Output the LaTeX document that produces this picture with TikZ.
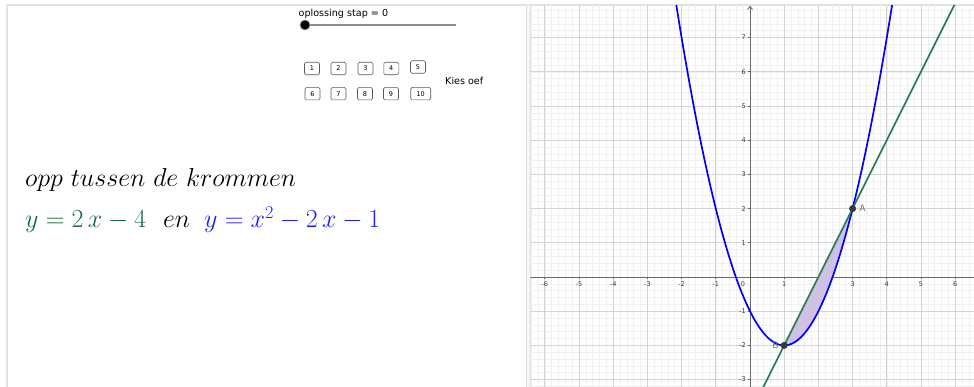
\RequirePackage{fix-cm}
\documentclass[tikz,border=0pt]{standalone}
\usepackage{fontspec}
\setsansfont{DejaVu Sans}
\usetikzlibrary{arrows.meta}
\definecolor{ggreen}{RGB}{20,110,65}
\definecolor{gline}{RGB}{35,125,80}
\definecolor{gblue}{RGB}{0,0,255}
\definecolor{gtextblue}{RGB}{30,30,255}
\definecolor{gfill}{RGB}{208,192,230}
\definecolor{framec}{RGB}{225,225,225}
\definecolor{majgrid}{RGB}{212,212,212}
\definecolor{mingrid}{RGB}{240,240,240}
\definecolor{axisc}{RGB}{105,105,105}
\definecolor{ptc}{RGB}{55,55,55}
\definecolor{labc}{RGB}{60,60,60}
\begin{document}
\begin{tikzpicture}[x=1pt,y=-1pt,
  btn/.style={draw=black!65, fill=white, rounded corners=1.5pt, minimum height=12.5pt,
    minimum width=15pt, inner sep=0pt, font=\sffamily\fontsize{6.5}{7}\selectfont, line width=0.6pt},
  ticklab/.style={font=\sffamily\fontsize{6.5}{7}\selectfont, text=labc, inner sep=0pt},
  ptlab/.style={font=\sffamily\fontsize{9}{10}\selectfont, text=black!55, inner sep=0pt},
  pt/.style={circle, fill=ptc, draw=ptc, inner sep=0pt, minimum size=6.5pt},
  bigtext/.style={font=\fontsize{26}{30}\selectfont, inner sep=0pt, anchor=base west}]
\useasboundingbox (0,0) rectangle (974,387);
\fill[white] (0,0) rectangle (974,387);
% frame
\draw[framec, line width=1.5pt] (7,5) -- (974,5);
\draw[framec, line width=1.5pt] (7,5) -- (7,387);
\fill[black!4] (526,5) rectangle (530.5,387);
\draw[framec, line width=1pt] (526.5,5) -- (526.5,387);
\draw[framec, line width=1pt] (530,5) -- (530,387);
% slider
\node[anchor=west, inner sep=0pt, font=\sffamily\fontsize{9.6}{11}\selectfont] (sl) at (298.5,13.5) {oplossing stap = 0};
\coordinate (s0) at (305,25);
\coordinate (s1) at (456,25);
\draw[black!45, line width=1.6pt] (s0) -- (s1);
\node[circle, fill=black, draw=black!40, line width=0.8pt, inner sep=0pt, minimum size=10pt] (knob) at (s0) {};
% buttons
\node[btn] (b1) at (312,68.5) {1};
\node[btn] (b2) at (338.5,68.5) {2};
\node[btn] (b3) at (365.5,68.5) {3};
\node[btn] (b4) at (391.3,68.5) {4};
\node[btn] (b5) at (418,67) {5};
\node[btn] (b6) at (312.5,93.7) {6};
\node[btn] (b7) at (338.5,93.7) {7};
\node[btn] (b8) at (365,93.7) {8};
\node[btn] (b9) at (391,93.7) {9};
\node[btn, minimum width=20pt] (b10) at (420.7,93.7) {10};
\node[anchor=west, inner sep=0pt, font=\sffamily\fontsize{9.6}{11}\selectfont] (kies) at (445,81) {Kies oef};
% texts
\node[bigtext] (t1) at (25,187) {$opp\ tussen\ de\ krommen$};
\node[bigtext, text=ggreen] (t2) at (25,227.5) {$y=2\,x-4$};
\node[bigtext] (t3) at (163,227.5) {$en$};
\node[bigtext, text=gtextblue] (t4) at (204,227.5) {$y=x^2-2\,x-1$};
% graph
\begin{scope}[shift={(750,277)}, x=34.2pt, y=34.2pt]
  \clip (-6.42,-3.22) rectangle (6.56,7.95);
  \draw[mingrid, line width=0.6pt, step=0.2] (-6.8,-3.6) grid (6.8,8.2);
  \draw[majgrid, line width=0.9pt, step=1] (-6.8,-3.6) grid (6.8,8.2);
  \draw[axisc, line width=0.9pt] (-6.5,0) -- (6.6,0);
  \draw[axisc, line width=0.9pt, -{Straight Barb[length=3pt,width=5pt]}] (0,-3.4) -- (0,7.93);
  \foreach \i in {-6,...,-1,1,2,...,6} {
    \draw[axisc, line width=0.7pt] (\i,0) -- (\i,-0.07);
    \node[ticklab] (xl\i) at (\i,-0.21) {\i};
  }
  \foreach \i in {-3,-2,-1,1,2,...,7} {
    \draw[axisc, line width=0.7pt] (0,\i) -- (-0.07,\i);
    \node[ticklab, anchor=east] (yl\i) at (-0.12,\i) {\i};
  }
  \node[ticklab] (x0) at (-0.21,-0.21) {0};
  \fill[gfill] plot[domain=1:3, samples=60, smooth] (\x,{\x*\x-2*\x-1}) -- cycle;
  \draw[gblue, line width=1.7pt] plot[domain=-2.35:4.35, samples=160, smooth] (\x,{\x*\x-2*\x-1});
  \coordinate (l0) at (0.2,-3.6);
  \coordinate (l1) at (6.2,8.4);
  \draw[gline, line width=1.7pt] (l0) -- (l1);
  \node[pt] (A) at (3,2) {};
  \node[pt] (B) at (1,-2) {};
  \node[ptlab, anchor=west] (Al) at ([xshift=3pt]A.east) {A};
  \node[ptlab, anchor=east] (Bl) at ([xshift=-2pt]B.west) {B};
\end{scope}
\end{tikzpicture}
\end{document}
